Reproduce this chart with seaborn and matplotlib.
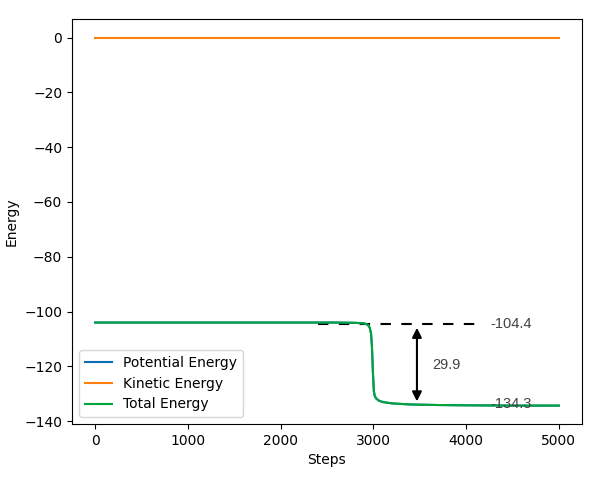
import pandas as pd
import numpy as np
import matplotlib
matplotlib.use("Agg")
import matplotlib.pyplot as plt
import seaborn as sns

# Data
steps = [0, 1000, 2000, 2600, 2800, 2900, 2940, 2960, 2975, 2985, 2995, 3005, 3015, 3030,
         3060, 3100, 3200, 3400, 3700, 4000, 4500, 5000]
potential = [-104.0, -104.0, -104.0, -104.0, -104.1, -104.3, -104.8, -105.8, -108.0, -113.0,
             -122.0, -129.0, -130.8, -131.7, -132.5, -133.0, -133.5, -133.9, -134.1, -134.2,
             -134.3, -134.3]
kinetic = [0.0] * len(steps)
total = [p + k for p, k in zip(potential, kinetic)]

series = ["Potential Energy", "Kinetic Energy", "Total Energy"]
colors = ["#0b6db3", "#ff7f0e", "#00a43c"]

e_start = -104.4
e_end = -134.3
gap = 29.9

df = pd.DataFrame({
    "Steps": steps * 3,
    "Energy": potential + kinetic + total,
    "series": [series[0]] * len(steps) + [series[1]] * len(steps) + [series[2]] * len(steps),
})

fig, ax = plt.subplots(figsize=(6, 4.78), dpi=100)
sns.lineplot(data=df, x="Steps", y="Energy", hue="series", palette=colors,
             linewidth=1.5, ax=ax)
ax.legend(loc="lower left", title=None)

# annotations
ax.plot([2400, 4150], [e_start, e_start], color="black", ls=(0, (5, 5)), lw=1.5, zorder=1)
ax.annotate("", xy=(3470, e_end), xytext=(3470, e_start),
            arrowprops=dict(arrowstyle="<|-|>", color="black", lw=1.5,
                            mutation_scale=14, shrinkA=3, shrinkB=3))
txt_kw = dict(family="Liberation Sans", fontsize=10.5, color="#444444", va="center")
ax.text(3640, (e_start + e_end) / 2, f"{gap:.1f}", **txt_kw)
ax.text(4260, e_start, f"{e_start:.1f}", **txt_kw)
ax.text(4260, e_end + 0.6, f"{e_end:.1f}", **txt_kw)

ax.set_xlabel("Steps")
ax.set_ylabel("Energy")
fig.subplots_adjust(left=0.12, right=0.97, bottom=0.113, top=0.96)
fig.savefig("out.png", dpi=100)
